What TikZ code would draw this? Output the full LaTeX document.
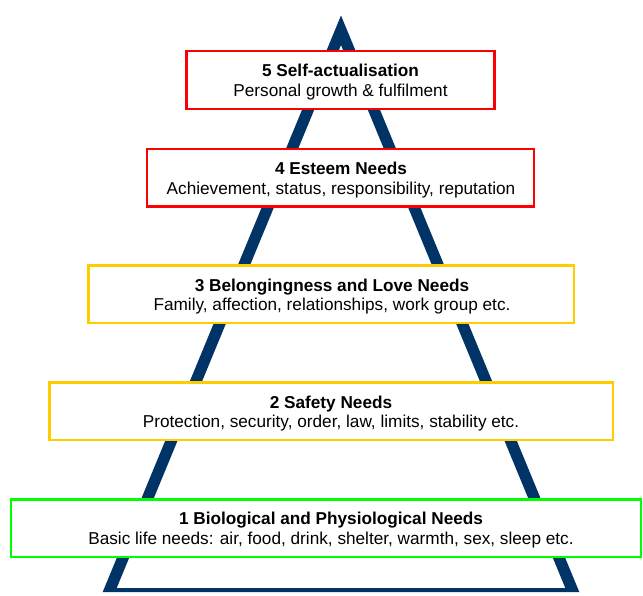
\documentclass[tikz,border=0pt]{standalone}
\usepackage{fontspec}
\setmainfont{Liberation Sans}
\definecolor{navy}{RGB}{0,51,102}
\definecolor{gold}{RGB}{255,204,0}
\definecolor{brightgreen}{RGB}{0,255,0}

\begin{document}
\begin{tikzpicture}[x=1pt, y=-1pt,
  levelbox/.style={draw=#1, fill=white, line width=2.3pt, inner sep=0pt, minimum height=57.5pt},
  needtext/.style={align=center, inner sep=0pt, font=\fontsize{17.2}{19.5}\selectfont}]
  \useasboundingbox (0,0) rectangle (643,595);

  % Pyramid outline (draw FIRST, boxes cover it)
  \fill[navy, even odd rule] (341,15.5) -- (102.7,592) -- (579.3,592) -- cycle
    (341,45) -- (116.7,588) -- (565.3,588) -- cycle;

  % Level boxes, top to bottom
  \node[levelbox=red, minimum width=308pt] (b5) at (340.5,80) {};
  \node[levelbox=red, minimum width=386.7pt] (b4) at (340.5,177.8) {};
  \node[levelbox=gold, minimum width=485.4pt] (b3) at (331.2,294.3) {};
  \node[levelbox=gold, minimum width=563.4pt] (b2) at (331.2,411.3) {};
  \node[levelbox=brightgreen, minimum width=629.7pt] (b1) at (326,528.2) {};

  % Level texts
  \node[needtext] (t5) at (340.5,82) {\textbf{5 Self-actualisation}\\Personal growth \& fulfilment};
  \node[needtext] (t4) at (341,179.8) {\textbf{4 Esteem Needs}\\Achievement, status, responsibility, reputation};
  \node[needtext] (t3) at (332,296.3) {\textbf{3 Belongingness and Love Needs}\\Family, affection, relationships, work group etc.};
  \node[needtext] (t2) at (331,413.3) {\textbf{2 Safety Needs}\\Protection, security, order, law, limits, stability etc.};
  \node[needtext] (t1) at (331,530.2) {\textbf{1 Biological and Physiological Needs}\\Basic life needs: air, food, drink, shelter, warmth, sex, sleep etc.};

\end{tikzpicture}
\end{document}
